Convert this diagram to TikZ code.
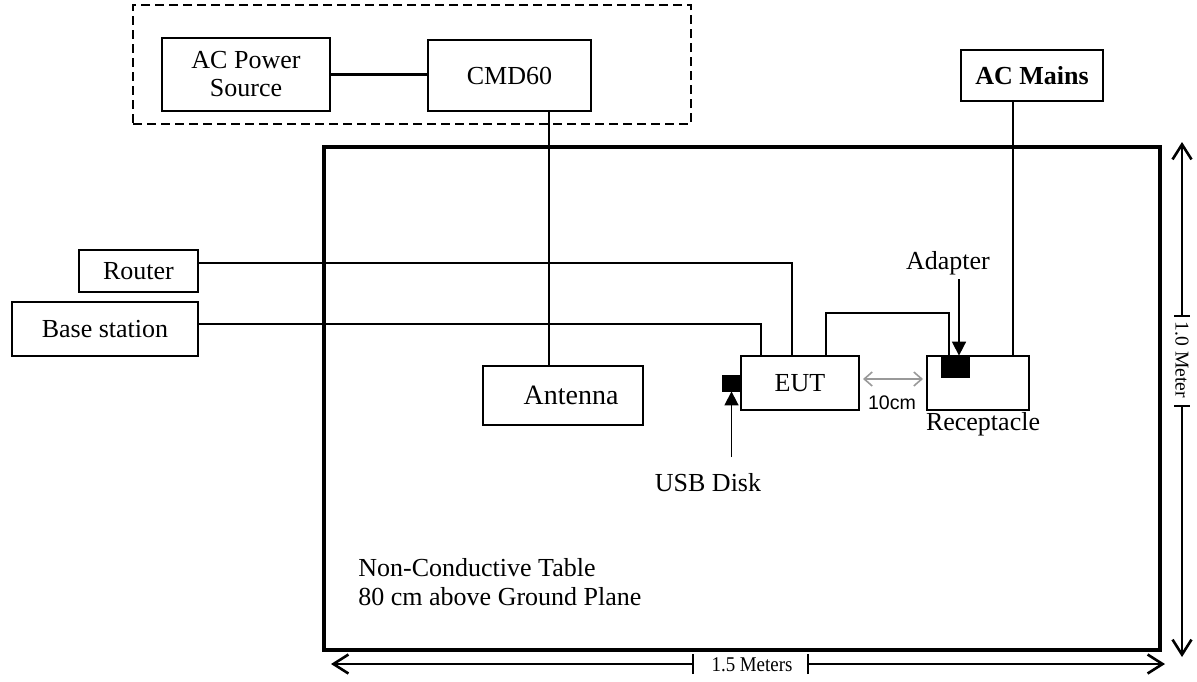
\documentclass[tikz,border=0pt]{standalone}
\usepackage{fontspec}
\setmainfont{Liberation Serif}
\newfontfamily\arialf{Liberation Sans}
\usetikzlibrary{arrows.meta}
\begin{document}
\begin{tikzpicture}[x=0.5pt,y=-0.5pt,
  box/.style={draw, line width=1pt, inner sep=0pt, align=center, font=\fontsize{13}{14}\selectfont},
  blk/.style={fill=black, draw=black, inner sep=0pt},
  lbl/.style={inner sep=0pt, font=\fontsize{13}{14.5}\selectfont},
  dimlbl/.style={inner sep=0pt, font=\fontsize{9.8}{11}\selectfont},
  wire/.style={line width=0.8pt},
  dimarrow/.style={line width=0.8pt, -{Straight Barb[length=7.5pt,width=9.5pt,line width=1.3pt]}},
  tick/.style={line width=0.8pt},
  ptr/.style={line width=0.8pt, -{Triangle[length=7pt,width=7pt]}}]
\useasboundingbox (0,0) rectangle (1197,681);

% group and table
\node[draw, dashed, dash pattern=on 4.5pt off 2.5pt, line width=0.8pt, inner sep=0pt,
      minimum width=279pt, minimum height=59.5pt] (grp) at (412,64.5) {};
\node[draw, line width=2pt, inner sep=0pt,
      minimum width=418pt, minimum height=251.5pt] (table) at (742,398.5) {};

% boxes
\node[box, minimum width=84pt, minimum height=36.5pt] (acps) at (246,74.5) {AC Power\\Source};
\node[box, minimum width=81.5pt, minimum height=35.5pt] (cmd) at (509.5,75.5) {CMD60};
\node[box, minimum width=71pt, minimum height=25.5pt] (mains) at (1032,75.5) {\bfseries AC Mains};
\node[box, minimum width=59.5pt, minimum height=21pt] (router) at (138.5,271) {Router};
\node[box, minimum width=93pt, minimum height=27pt] (base) at (105,329) {Base station};
\node[box, minimum width=80pt, minimum height=29.5pt, font=\fontsize{14}{15}\selectfont] (ant) at (563,395.5) {\hspace*{8pt}Antenna};
\node[box, minimum width=59pt, minimum height=27pt] (eut) at (800,383) {EUT};
\node[box, minimum width=51pt, minimum height=27pt] (rec) at (978,383) {};
\node[blk, minimum width=14pt, minimum height=10.5pt] (adapter) at (955,366.5) {};
\node[blk, minimum width=9.5pt, minimum height=8pt] (usb) at (731.5,383) {};

% labels
\node[lbl] (adlbl) at (948,263) {Adapter};
\node[lbl] (reclbl) at (983,424) {Receptacle};
\node[lbl] (usblbl) at (708,483) {USB Disk};
\node[inner sep=0pt, font=\arialf\fontsize{9.8}{11}\selectfont] (cmlbl) at (892,403) {10cm};
\node[lbl, anchor=west, align=left] (tbl) at (358,582) {Non-Conductive Table\\80 cm above Ground Plane};

% connection coordinates
\coordinate (r1) at (198,263);
\coordinate (r2) at (792,263);
\coordinate (b1) at (198,324);
\coordinate (b2) at (761,324);
\coordinate (e1) at (826,313);
\coordinate (e2) at (949,313);
\coordinate (xc) at (549,0);
\coordinate (xm) at (1013,0);
\coordinate (xa) at (959,0);
\coordinate (u0) at (731.5,457);

% connectors
\draw[line width=1.5pt] (acps.east |- 0,74) -- (cmd.west |- 0,74);
\draw[wire] (cmd.south -| xc) -- (ant.north -| xc);
\draw[wire] (r1) -- (r2) -- (eut.north -| r2);
\draw[wire] (b1) -- (b2) -- (eut.north -| b2);
\draw[wire] (eut.north -| e1) -- (e1) -- (e2) -- (adapter.north -| e2);
\draw[wire] (mains.south -| xm) -- (rec.north -| xm);
\draw[line width=0.8pt, gray!80, {Straight Barb[length=4pt,width=7pt]}-{Straight Barb[length=4pt,width=7pt]}]
  (863,379) coordinate (g1) -- (923,379) coordinate (g2);
\draw[ptr] (xa |- 0,279) -- (adapter.north -| xa);
\draw[ptr] (u0) -- (usb.south);

% dimension: 1.0 Meter
\node[dimlbl, rotate=-90] (vm) at (1182,360) {1.0 Meter};
\coordinate (vt) at (1182,142);
\coordinate (vb) at (1182,657);
\coordinate (vt1) at (1182,316);
\coordinate (vt2) at (1182,406);
\draw[dimarrow] (vt1) -- (vt);
\draw[dimarrow] (vt2) -- (vb);
\draw[tick] ([xshift=-4pt]vt1) -- ([xshift=4pt]vt1);
\draw[tick] ([xshift=-4pt]vt2) -- ([xshift=4pt]vt2);

% dimension: 1.5 Meters
\node[dimlbl, font=\fontsize{10.5}{12}\selectfont, xscale=0.9] (hm) at (752,665) {1.5 Meters};
\coordinate (hl) at (331,664);
\coordinate (hr) at (1165,664);
\coordinate (ht1) at (693,664);
\coordinate (ht2) at (808,664);
\draw[dimarrow] (ht1) -- (hl);
\draw[dimarrow] (ht2) -- (hr);
\draw[tick] ([yshift=-5pt]ht1) -- ([yshift=5pt]ht1);
\draw[tick] ([yshift=-5pt]ht2) -- ([yshift=5pt]ht2);
\end{tikzpicture}
\end{document}
